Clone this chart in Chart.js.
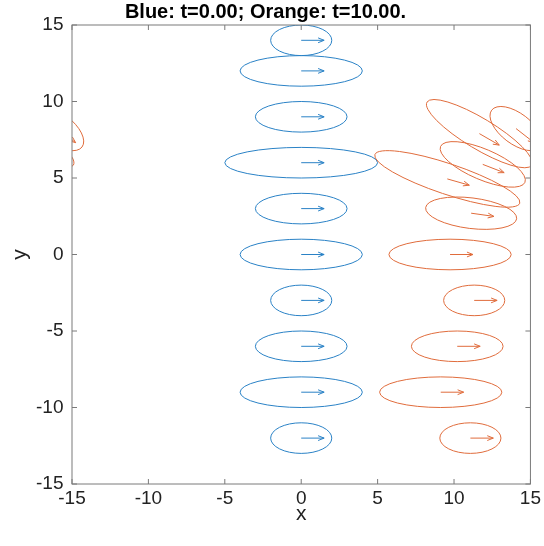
<!DOCTYPE html>
<html>
<head>
<meta charset="utf-8">
<title>Ellipses</title>
<script src="https://cdn.jsdelivr.net/npm/chart.js@4.4.1/dist/chart.umd.min.js"></script>
<style>
  html, body { margin: 0; padding: 0; background: #fff; }
  #wrap { width: 544px; height: 546px; }
</style>
</head>
<body>
<div id="wrap"><canvas id="chart"></canvas></div>
<script>
// axis ticks (same on both axes)
const tickValues = [-15, -10, -5, 0, 5, 10, 15];
const period = 30; // domain wraps in x

// blue set, t = 0: centre, semi-axes, tilt (deg), arrow vector
const blueX = [0, 0, 0, 0, 0, 0, 0, 0, 0, 0];
const blueY = [14, 12, 9, 6, 3, 0, -3, -6, -9, -12];
const blueA = [2, 4, 3, 5, 3, 4, 2, 3, 4, 2];
const blueB = [1, 1, 1, 1, 1, 1, 1, 1, 1, 1];
const blueTilt = [0, 0, 0, 0, 0, 0, 0, 0, 0, 0];
const blueU = [1.5, 1.5, 1.5, 1.5, 1.5, 1.5, 1.5, 1.5, 1.5, 1.5];
const blueV = [0, 0, 0, 0, 0, 0, 0, 0, 0, 0];

// orange set, t = 10
const orangeX = [11.12, 9.56, 11.88, 11.66, 14.06, 9.74, 11.32, 10.21, 9.13, 11.07];
const orangeY = [2.70, 4.94, 5.89, 7.90, 8.23, 0, -3, -6, -9, -12];
const orangeA = [3, 5, 3, 4, 2, 4, 2, 3, 4, 2];
const orangeB = [1, 1, 1, 1, 1, 1, 1, 1, 1, 1];
const orangeTilt = [-7, -18.5, -23, -31, -37, 0, 0, 0, 0, 0];
const orangeU = [1.49, 1.44, 1.40, 1.30, 1.18, 1.5, 1.5, 1.5, 1.5, 1.5];
const orangeV = [-0.21, -0.41, -0.54, -0.75, -0.92, 0, 0, 0, 0, 0];

const BLUE = '#2A82C6';
const ORANGE = '#E06C3C';
const FONT = '"Liberation Sans", Arial, Helvetica, sans-serif';

function makeSet(xs, ys, as, bs, tilt, us, vs) {
  return xs.map((x, i) => ({ x: x, y: ys[i], a: as[i], b: bs[i], tilt: tilt[i], u: us[i], v: vs[i] }));
}

const blueSet = makeSet(blueX, blueY, blueA, blueB, blueTilt, blueU, blueV);
const orangeSet = makeSet(orangeX, orangeY, orangeA, orangeB, orangeTilt, orangeU, orangeV);

// draws an ellipse + quiver arrow for every point of each dataset
const ellipsePlugin = {
  id: 'ellipses',
  afterDatasetsDraw(chart) {
    const { ctx, chartArea: area, scales: { x: xs, y: ys } } = chart;
    const sx = xs.getPixelForValue(1) - xs.getPixelForValue(0);
    const sy = ys.getPixelForValue(0) - ys.getPixelForValue(1);

    ctx.save();
    ctx.beginPath();
    ctx.rect(area.left, area.top, area.right - area.left, area.bottom - area.top);
    ctx.clip();
    ctx.lineWidth = 1;

    chart.data.datasets.forEach(ds => {
      ctx.strokeStyle = ds.borderColor;
      ds.data.forEach(p => {
        [-period, 0, period].forEach(shift => {
          const cx = xs.getPixelForValue(p.x + shift);
          const cy = ys.getPixelForValue(p.y);

          // ellipse in data units, stroked in pixel units
          ctx.save();
          ctx.translate(cx, cy);
          ctx.scale(sx, -sy);
          ctx.rotate(p.tilt * Math.PI / 180);
          ctx.beginPath();
          ctx.ellipse(0, 0, p.a, p.b, 0, 0, Math.PI * 2);
          ctx.restore();
          ctx.stroke();

          // arrow
          const tx = xs.getPixelForValue(p.x + shift + p.u);
          const ty = ys.getPixelForValue(p.y + p.v);
          const ang = Math.atan2(ty - cy, tx - cx);
          const head = 6.5, spread = 0.38;
          ctx.beginPath();
          ctx.moveTo(cx, cy);
          ctx.lineTo(tx, ty);
          ctx.moveTo(tx - head * Math.cos(ang - spread), ty - head * Math.sin(ang - spread));
          ctx.lineTo(tx, ty);
          ctx.lineTo(tx - head * Math.cos(ang + spread), ty - head * Math.sin(ang + spread));
          ctx.stroke();
        });
      });
    });
    ctx.restore();
  },
  // box with inward ticks on all four sides
  afterDraw(chart) {
    const { ctx, chartArea: area, scales: { x: xs, y: ys } } = chart;
    const len = 5;
    ctx.save();
    ctx.strokeStyle = '#7a7a7a';
    ctx.lineWidth = 1;
    ctx.strokeRect(area.left, area.top, area.right - area.left, area.bottom - area.top);
    ctx.beginPath();
    tickValues.forEach(v => {
      const px = xs.getPixelForValue(v);
      ctx.moveTo(px, area.bottom); ctx.lineTo(px, area.bottom - len);
      ctx.moveTo(px, area.top); ctx.lineTo(px, area.top + len);
      const py = ys.getPixelForValue(v);
      ctx.moveTo(area.left, py); ctx.lineTo(area.left + len, py);
      ctx.moveTo(area.right, py); ctx.lineTo(area.right - len, py);
    });
    ctx.stroke();
    ctx.restore();
  }
};

new Chart(document.getElementById('chart'), {
  type: 'scatter',
  data: {
    datasets: [
      { label: 't=0.00', data: blueSet, borderColor: BLUE, pointRadius: 0 },
      { label: 't=10.00', data: orangeSet, borderColor: ORANGE, pointRadius: 0 }
    ]
  },
  options: {
    responsive: true,
    maintainAspectRatio: false,
    animation: false,
    layout: { padding: { left: 0, right: 13, top: 0, bottom: 0 } },
    plugins: {
      legend: { display: false },
      tooltip: { enabled: false },
      title: {
        display: true,
        text: 'Blue: t=0.00; Orange: t=10.00.',
        color: '#000',
        font: { family: FONT, size: 20, weight: 'bold' },
        padding: { top: 0.5, bottom: 0.5 }
      }
    },
    scales: {
      x: {
        type: 'linear',
        min: -15, max: 15,
        afterBuildTicks: s => { s.ticks = tickValues.map(v => ({ value: v })); },
        afterFit: s => { s.height = 62; },
        grid: { display: false, drawTicks: false },
        border: { display: false },
        ticks: { color: '#222', padding: 3, font: { family: FONT, size: 19 } },
        title: { display: true, text: 'x', color: '#222', font: { family: FONT, size: 21 }, padding: { top: 0, bottom: 19 } }
      },
      y: {
        type: 'linear',
        min: -15, max: 15,
        afterBuildTicks: s => { s.ticks = tickValues.map(v => ({ value: v })); },
        afterFit: s => { s.width = 72; },
        grid: { display: false, drawTicks: false },
        border: { display: false },
        ticks: { color: '#222', padding: 8.5, font: { family: FONT, size: 19 } },
        title: { display: true, text: 'y', color: '#222', font: { family: FONT, size: 21 }, padding: { top: 7.4, bottom: 0 } }
      }
    }
  },
  plugins: [ellipsePlugin]
});
</script>
</body>
</html>
